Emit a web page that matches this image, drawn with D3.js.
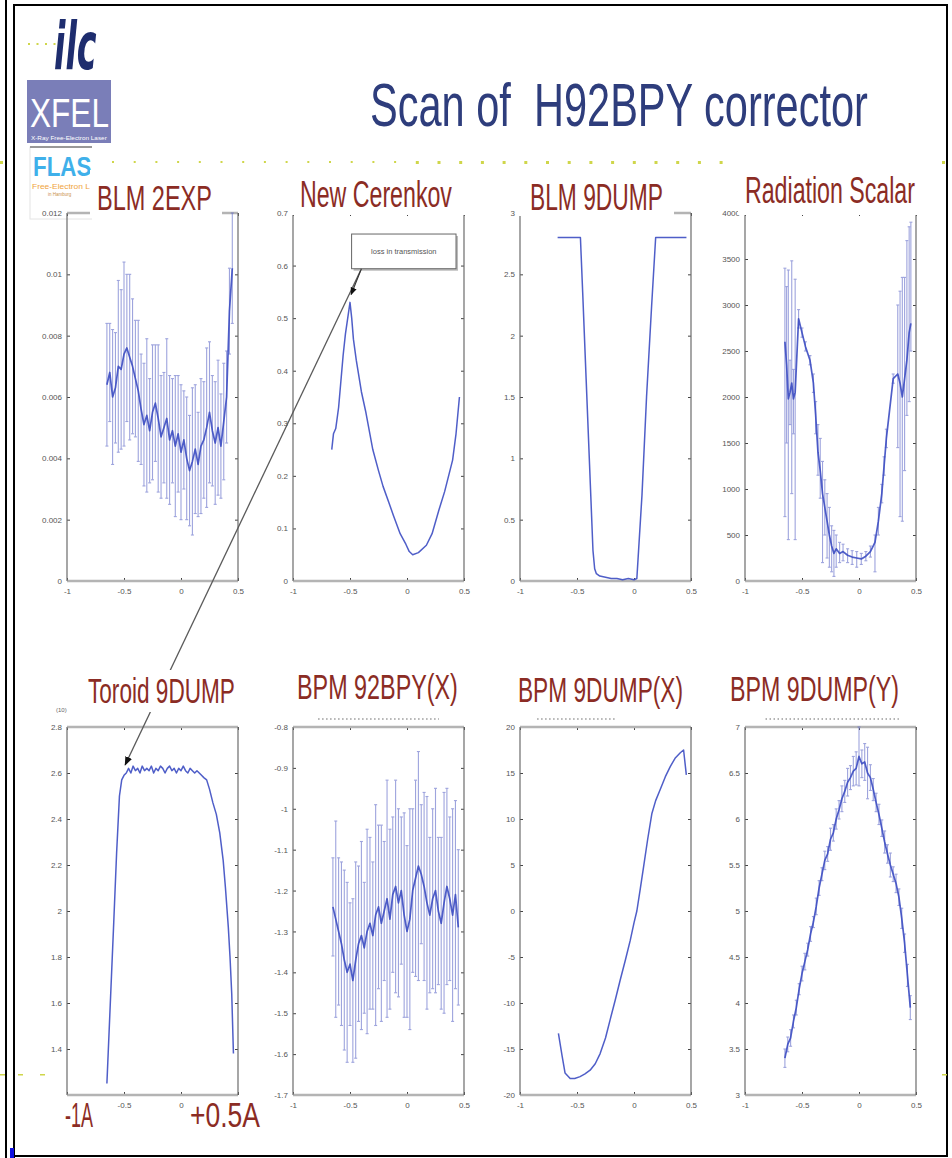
<!DOCTYPE html>
<html>
<head>
<meta charset="utf-8">
<script src="https://cdn.jsdelivr.net/npm/d3@7"></script>
<style>
  body { margin: 0; background: #fff; }
  svg { display: block; font-family: "Liberation Sans", Arial, sans-serif; }
  .tick text { font-size: 8px; fill: #555; }
  .tick line { stroke: #444; }
  .ptitle { fill: #8b2c24; }
</style>
</head>
<body>
<svg id="slide" width="952" height="1158"></svg>
<script>
// ---------- data ----------
const xTicks = [-1, -0.5, 0, 0.5];
const xTickLabels = ["-1", "-0.5", "0", "0.5"];

// corrector current steps used by the error-bar scans
const scanX = [-0.65,-0.625,-0.6,-0.575,-0.55,-0.525,-0.5,-0.475,-0.45,-0.425,-0.4,-0.375,-0.35,-0.325,-0.3,-0.275,-0.25,-0.225,-0.2,-0.175,-0.15,-0.125,-0.1,-0.075,-0.05,-0.025,0,0.025,0.05,0.075,0.1,0.125,0.15,0.175,0.2,0.225,0.25,0.275,0.3,0.325,0.35,0.375,0.4,0.425,0.45];

// BLM 2EXP
const blm2expTicks = [0,0.002,0.004,0.006,0.008,0.01,0.012];
const blm2expLabels = ["0","0.002","0.004","0.006","0.008","0.01","0.012"];
const blm2expMean = [0.0064,0.0068,0.0060,0.0063,0.0070,0.0069,0.0074,0.0076,0.0073,0.0070,0.0066,0.0062,0.0056,0.0051,0.0054,0.0049,0.0055,0.0058,0.0053,0.0047,0.0050,0.0053,0.0046,0.0049,0.0044,0.0048,0.0042,0.0046,0.0040,0.0036,0.0039,0.0043,0.0038,0.0044,0.0046,0.0050,0.0055,0.0049,0.0045,0.0050,0.0044,0.0052,0.0060,0.0088,0.0102];
const blm2expErr = [0.0020,0.0016,0.0022,0.0018,0.0028,0.0026,0.0030,0.0024,0.0027,0.0022,0.0019,0.0023,0.0018,0.0020,0.0025,0.0017,0.0022,0.0019,0.0024,0.0020,0.0018,0.0026,0.0021,0.0017,0.0023,0.0019,0.0022,0.0016,0.0020,0.0018,0.0024,0.0021,0.0017,0.0022,0.0019,0.0026,0.0023,0.0018,0.0020,0.0022,0.0017,0.0019,0.0015,0.0014,0.0018];

// New Cerenkov
const cerTicks = [0,0.1,0.2,0.3,0.4,0.5,0.6,0.7];
const cerLabels = ["0","0.1","0.2","0.3","0.4","0.5","0.6","0.7"];
const cerX = [-0.66,-0.645,-0.625,-0.6,-0.58,-0.56,-0.54,-0.52,-0.5,-0.485,-0.47,-0.445,-0.4,-0.36,-0.3,-0.25,-0.21,-0.16,-0.12,-0.06,-0.01,0.02,0.05,0.1,0.17,0.22,0.28,0.33,0.4,0.43,0.46];
const cerY = [0.25,0.28,0.29,0.33,0.38,0.43,0.47,0.5,0.53,0.5,0.46,0.42,0.36,0.32,0.25,0.21,0.18,0.15,0.125,0.09,0.07,0.056,0.05,0.054,0.068,0.09,0.135,0.17,0.23,0.28,0.35];

// BLM 9DUMP
const blm9Ticks = [0,0.5,1,1.5,2,2.5,3];
const blm9Labels = ["0","0.5","1","1.5","2","2.5","3"];
const blm9X = [-0.67,-0.47,-0.45,-0.42,-0.39,-0.36,-0.345,-0.33,-0.3,-0.25,-0.2,-0.15,-0.1,-0.05,0,0.025,0.07,0.11,0.155,0.19,0.46];
const blm9Y = [2.8,2.8,2.35,1.65,0.95,0.25,0.1,0.06,0.04,0.03,0.02,0.02,0.01,0.02,0.01,0.02,0.7,1.5,2.25,2.8,2.8];

// Radiation Scalar
const radTicks = [0,500,1000,1500,2000,2500,3000,3500,4000];
const radLabels = ["0","500","1000","1500","2000","2500","3000","3500","4000"];
const radX = [-0.65,-0.635,-0.62,-0.605,-0.59,-0.575,-0.56,-0.53,-0.5,-0.47,-0.43,-0.4,-0.38,-0.36,-0.34,-0.32,-0.3,-0.28,-0.26,-0.24,-0.22,-0.2,-0.17,-0.14,-0.1,-0.06,-0.02,0.02,0.06,0.1,0.14,0.17,0.2,0.22,0.24,0.3,0.34,0.36,0.38,0.4,0.42,0.44,0.455];
const radY = [2600,2350,1980,2050,2150,1980,2050,2850,2700,2550,2400,2150,1800,1400,1200,950,800,650,500,380,300,350,300,320,280,260,250,240,270,320,420,650,950,1250,1550,2200,2250,2150,2000,2200,2400,2700,2800];
const radLo = [700,1500,450,1700,950,1600,450,2750,2650,2500,2350,2050,1600,1150,900,200,500,250,150,100,50,150,200,220,200,180,150,180,220,260,100,500,850,1150,1450,2150,1450,700,650,1200,1800,1950,2500];
const radHi = [3400,3200,3380,2400,3480,2300,3280,2950,2750,2600,2450,2250,1950,1700,1550,1300,1100,950,800,600,550,500,420,400,350,330,320,300,320,380,500,800,1050,1350,1650,2250,3000,3150,3300,3300,3700,3850,3900];

// Toroid 9DUMP
const torTicks = [1.4,1.6,1.8,2,2.2,2.4,2.6,2.8];
const torLabels = ["1.4","1.6","1.8","2","2.2","2.4","2.6","2.8"];
const torX = [-0.65,-0.62,-0.59,-0.565,-0.54,-0.52,-0.5,-0.48,-0.46,-0.44,-0.42,-0.4,-0.38,-0.36,-0.34,-0.32,-0.3,-0.28,-0.26,-0.24,-0.22,-0.2,-0.18,-0.16,-0.14,-0.12,-0.1,-0.08,-0.06,-0.04,-0.02,0,0.02,0.04,0.06,0.08,0.1,0.12,0.14,0.16,0.18,0.2,0.225,0.25,0.28,0.31,0.34,0.37,0.39,0.415,0.43,0.445,0.46];
const torY = [1.25,1.6,1.95,2.25,2.5,2.57,2.59,2.6,2.62,2.6,2.63,2.61,2.62,2.6,2.63,2.61,2.62,2.61,2.63,2.6,2.62,2.61,2.63,2.62,2.6,2.62,2.63,2.61,2.62,2.6,2.62,2.61,2.63,2.61,2.6,2.62,2.61,2.6,2.61,2.6,2.59,2.58,2.57,2.53,2.47,2.42,2.34,2.22,2.1,1.93,1.8,1.64,1.38];

// BPM 92BPY(X)
const bpm92Ticks = [-1.7,-1.6,-1.5,-1.4,-1.3,-1.2,-1.1,-1,-0.9,-0.8];
const bpm92Labels = ["-1.7","-1.6","-1.5","-1.4","-1.3","-1.2","-1.1","-1","-0.9","-0.8"];
const bpm92Mean = [-1.24,-1.27,-1.30,-1.33,-1.37,-1.40,-1.38,-1.42,-1.37,-1.33,-1.31,-1.34,-1.30,-1.28,-1.31,-1.26,-1.24,-1.28,-1.25,-1.22,-1.27,-1.21,-1.19,-1.23,-1.20,-1.26,-1.30,-1.27,-1.20,-1.17,-1.14,-1.16,-1.19,-1.23,-1.26,-1.22,-1.20,-1.25,-1.28,-1.23,-1.19,-1.22,-1.26,-1.21,-1.29];
const bpm92Err = [0.12,0.24,0.18,0.20,0.22,0.22,0.15,0.20,0.24,0.19,0.23,0.16,0.25,0.21,0.18,0.27,0.20,0.24,0.17,0.29,0.22,0.19,0.26,0.23,0.18,0.25,0.21,0.27,0.20,0.24,0.28,0.17,0.23,0.26,0.19,0.22,0.25,0.18,0.21,0.27,0.24,0.20,0.26,0.23,0.19];

// BPM 9DUMP(X)
const bpmxTicks = [-20,-15,-10,-5,0,5,10,15,20];
const bpmxLabels = ["-20","-15","-10","-5","0","5","10","15","20"];
const bpmxX = [-0.663,-0.63,-0.605,-0.56,-0.52,-0.473,-0.43,-0.385,-0.34,-0.297,-0.25,-0.209,-0.165,-0.121,-0.075,-0.033,0,0.025,0.055,0.084,0.12,0.157,0.19,0.23,0.275,0.318,0.36,0.406,0.435,0.459];
const bpmxY = [-13.3,-15.8,-17.6,-18.2,-18.2,-18.0,-17.7,-17.3,-16.6,-15.5,-13.8,-11.8,-9.7,-7.5,-5.3,-3.2,-1.3,0.0,2.4,4.8,7.8,10.6,12.0,13.2,14.6,15.7,16.6,17.2,17.5,14.8];

// BPM 9DUMP(Y)
const bpmyTicks = [3,3.5,4,4.5,5,5.5,6,6.5,7];
const bpmyLabels = ["3","3.5","4","4.5","5","5.5","6","6.5","7"];
const bpmyMean = [3.40,3.55,3.62,3.80,3.95,4.15,4.32,4.45,4.58,4.75,4.88,5.05,5.25,5.40,5.55,5.62,5.78,5.85,6.00,6.10,6.22,6.30,6.40,6.45,6.52,6.55,6.68,6.60,6.62,6.50,6.45,6.32,6.18,6.05,5.90,5.75,5.62,5.50,5.40,5.30,5.15,4.92,4.65,4.30,3.95];
const bpmyErr = [0.10,0.08,0.09,0.07,0.08,0.06,0.08,0.09,0.07,0.08,0.06,0.09,0.08,0.07,0.10,0.08,0.12,0.09,0.11,0.10,0.14,0.12,0.15,0.13,0.16,0.18,0.32,0.15,0.20,0.28,0.14,0.12,0.10,0.11,0.09,0.12,0.10,0.13,0.08,0.10,0.09,0.11,0.10,0.12,0.13];

// ---------- layout ----------
const svg = d3.select("#slide");
const PW = 171, PH = 368;
const colLeft = [67, 293, 520, 745];
const rowTop = [213, 727];
const lineBlue = "#3c4dc2";
const red = "#8b2c24";

const panels = [
  { name: "BLM 2EXP", col: 0, row: 0, yDomain: [0, 0.012], yTicks: blm2expTicks, yLabels: blm2expLabels,
    kind: "err", x: scanX, y: blm2expMean, err: blm2expErr,
    t: { x0: 97, x1: 212, base: 210, bg: [90, 170, 222, 216] } },
  { name: "New Cerenkov", col: 1, row: 0, yDomain: [0, 0.7], yTicks: cerTicks, yLabels: cerLabels,
    kind: "line", x: cerX, y: cerY,
    t: { x0: 300, x1: 452, base: 207, bg: [289, 168, 469, 215] } },
  { name: "BLM 9DUMP", col: 2, row: 0, yDomain: [0, 3], yTicks: blm9Ticks, yLabels: blm9Labels,
    kind: "line", x: blm9X, y: blm9Y,
    t: { x0: 530, x1: 663, base: 210, bg: [516, 170, 674, 216] } },
  { name: "Radiation Scalar", col: 3, row: 0, yDomain: [0, 4000], yTicks: radTicks, yLabels: radLabels,
    kind: "errLoHi", x: radX, y: radY, lo: radLo, hi: radHi,
    t: { x0: 745, x1: 915, base: 203, bg: [738, 150, 926, 215] } },
  { name: "Toroid 9DUMP", col: 0, row: 1, yDomain: [1.2, 2.8], yTicks: torTicks, yLabels: torLabels,
    kind: "line", x: torX, y: torY, xLabels: ["", "-0.5", "0", ""],
    t: { x0: 88, x1: 235, base: 703, bg: [84, 670, 240, 712] } },
  { name: "BPM 92BPY(X)", col: 1, row: 1, yDomain: [-1.7, -0.8], yTicks: bpm92Ticks, yLabels: bpm92Labels,
    kind: "err", x: scanX, y: bpm92Mean, err: bpm92Err, faint: [-0.78, 0.28],
    t: { x0: 297, x1: 458, base: 699, bg: [292, 668, 464, 712] } },
  { name: "BPM 9DUMP(X)", col: 2, row: 1, yDomain: [-20, 20], yTicks: bpmxTicks, yLabels: bpmxLabels,
    kind: "line", x: bpmxX, y: bpmxY, faint: [-0.85, -0.15],
    t: { x0: 518, x1: 683, base: 702, bg: [514, 668, 688, 712] } },
  { name: "BPM 9DUMP(Y)", col: 3, row: 1, yDomain: [3, 7], yTicks: bpmyTicks, yLabels: bpmyLabels,
    kind: "err", x: scanX, y: bpmyMean, err: bpmyErr, faint: [-0.82, 0.35],
    t: { x0: 730, x1: 899, base: 701, bg: [726, 668, 904, 712] } }
];

// text squeezed to a measured width (the slide is horizontally compressed)
function fitText(parent, str, x0, x1, base, size, sy) {
  const t = parent.append("text").attr("font-size", size).style("white-space", "pre").text(str);
  const w = t.node().getComputedTextLength();
  t.attr("transform", `translate(${x0},${base}) scale(${(x1 - x0) / w},${sy || 1})`);
  return t;
}

// ---------- defs ----------
const defs = svg.append("defs");
defs.append("marker").attr("id", "head")
    .attr("viewBox", "0 0 10 10").attr("refX", 9).attr("refY", 5)
    .attr("markerWidth", 7).attr("markerHeight", 7).attr("orient", "auto")
  .append("path").attr("d", "M0,1L10,5L0,9z").attr("fill", "#111");
defs.append("clipPath").attr("id", "flashClip")
  .append("rect").attr("x", 28).attr("y", 140).attr("width", 64).attr("height", 80);

// ---------- slide frame ----------
svg.append("rect").attr("width", 952).attr("height", 1158).attr("fill", "#fff");
const frame = svg.append("g").attr("stroke", "#000").attr("stroke-width", 2).attr("fill", "none");
frame.append("line").attr("x1", 6).attr("x2", 6).attr("y1", 0).attr("y2", 1158);
frame.append("line").attr("x1", 14).attr("x2", 14).attr("y1", 4).attr("y2", 1158);
frame.append("line").attr("x1", 14).attr("x2", 948).attr("y1", 5).attr("y2", 5);
frame.append("line").attr("x1", 947).attr("x2", 947).attr("y1", 5).attr("y2", 1157);
frame.append("line").attr("x1", 14).attr("x2", 948).attr("y1", 1156).attr("y2", 1156);
svg.append("rect").attr("x", 10).attr("y", 1148).attr("width", 4).attr("height", 10).attr("fill", "#1010e0");

// dotted separators of the slide template
const dots = svg.append("g").attr("fill", "#cfd64a");
d3.range(28, 56, 8.5).forEach(x => dots.append("rect").attr("x", x).attr("y", 43).attr("width", 2).attr("height", 2));
d3.range(112, 730, 21.7).forEach((x, i) => dots.append("rect").attr("x", x).attr("y", 161)
    .attr("width", i > 13 ? 3 : 2).attr("height", i > 13 ? 3 : 2));
[0, 942].forEach(x => dots.append("rect").attr("x", x).attr("y", 161).attr("width", 3).attr("height", 3));
[0, 18, 40, 942].forEach(x => dots.append("rect").attr("x", x).attr("y", 1074).attr("width", 5).attr("height", 1.5));

// ---------- logos ----------
fitText(svg, "ilc", 54, 89, 69, 50, 1.3).attr("font-style", "italic").attr("font-weight", "bold")
   .attr("font-family", "DejaVu Sans Condensed, DejaVu Sans").attr("fill", "#1e2d6e");
svg.append("rect").attr("x", 27).attr("y", 80).attr("width", 84).attr("height", 63).attr("fill", "#7a7eb8");
fitText(svg, "XFEL", 30, 109, 127, 40).attr("fill", "#fff");
fitText(svg, "X-Ray Free-Electron Laser", 31, 107, 140, 5).attr("fill", "#fff");
const flash = svg.append("g").attr("clip-path", "url(#flashClip)");
flash.append("rect").attr("x", 30).attr("y", 147).attr("width", 90).attr("height", 72)
   .attr("fill", "#fff").attr("stroke", "#e4e4e4");
flash.append("line").attr("x1", 30).attr("x2", 120).attr("y1", 147).attr("y2", 147).attr("stroke", "#999").attr("stroke-width", 2);
fitText(flash, "FLASH", 33, 105, 176, 27).attr("font-weight", "bold").attr("fill", "#3fb0ea");
fitText(flash, "Free-Electron L", 32, 90, 189, 8).attr("fill", "#f0a43c");
flash.append("text").attr("x", 48).attr("y", 196).attr("font-size", 4.5).attr("fill", "#c9904a").text("in Hamburg");

// ---------- slide title ----------
fitText(svg, "Scan of  H92BPY corrector", 370, 868, 126, 62).attr("fill", "#2e3d7c");

// ---------- panels ----------
function drawPanel(p) {
  const left = colLeft[p.col], top = rowTop[p.row];
  const x = d3.scaleLinear().domain([-1, 0.5]).range([left, left + PW]);
  const y = d3.scaleLinear().domain(p.yDomain).range([top + PH, top]);
  p.xs = x; p.ys = y;
  const g = svg.append("g");
  const xl = p.xLabels || xTickLabels;

  g.append("g").attr("transform", `translate(${left},0)`)
    .call(d3.axisLeft(y).tickValues(p.yTicks).tickFormat((d, i) => p.yLabels[i])
      .tickSizeInner(-3).tickSizeOuter(0).tickPadding(5));
  g.append("g").attr("transform", `translate(${left + PW},0)`)
    .call(d3.axisRight(y).tickValues(p.yTicks).tickFormat("").tickSizeInner(-3).tickSizeOuter(0));
  g.append("g").attr("transform", `translate(0,${top + PH})`)
    .call(d3.axisBottom(x).tickValues(xTicks).tickFormat((d, i) => xl[i])
      .tickSizeInner(-3).tickSizeOuter(0).tickPadding(7));
  g.append("g").attr("transform", `translate(0,${top})`)
    .call(d3.axisTop(x).tickValues(xTicks).tickFormat("").tickSizeInner(-3).tickSizeOuter(0));
  g.selectAll(".domain").remove();

  // box: light thick horizontals, darker thin verticals
  [top, top + PH].forEach(yy => g.append("line").attr("x1", left).attr("x2", left + PW)
      .attr("y1", yy).attr("y2", yy).attr("stroke", "#b4b4b4").attr("stroke-width", 2.6));
  [left, left + PW].forEach(xx => g.append("line").attr("x1", xx).attr("x2", xx)
      .attr("y1", top).attr("y2", top + PH).attr("stroke", "#6c6c6c").attr("stroke-width", 1.2));

  if (p.faint) {
    g.append("line").attr("x1", x(p.faint[0])).attr("x2", x(p.faint[1]))
      .attr("y1", top - 8).attr("y2", top - 8)
      .attr("stroke", "#9a9a9a").attr("stroke-width", 1.5).attr("stroke-dasharray", "1.5,2.5");
  }

  const pts = p.x.map((xv, i) => {
    let lo = null, hi = null;
    if (p.kind === "err") { lo = p.y[i] - p.err[i]; hi = p.y[i] + p.err[i]; }
    if (p.kind === "errLoHi") { lo = p.lo[i]; hi = p.hi[i]; }
    return { x: xv, y: p.y[i], lo, hi };
  });

  if (p.kind !== "line") {
    const bars = g.append("g").attr("stroke", "#5e68c8").attr("stroke-width", 1.1).attr("opacity", 0.6);
    pts.forEach(d => {
      bars.append("line").attr("x1", x(d.x)).attr("x2", x(d.x)).attr("y1", y(d.lo)).attr("y2", y(d.hi));
      [d.lo, d.hi].forEach(v => bars.append("line").attr("x1", x(d.x) - 1.5).attr("x2", x(d.x) + 1.5)
          .attr("y1", y(v)).attr("y2", y(v)));
    });
  }
  const line = d3.line().x(d => x(d.x)).y(d => y(d.y));
  g.append("path").datum(pts).attr("d", line).attr("fill", "none")
    .attr("stroke", lineBlue).attr("stroke-width", p.kind === "line" ? 1.5 : 1.7)
    .attr("stroke-linejoin", "round").attr("opacity", 0.9);
}
panels.forEach(drawPanel);

// tiny exponent label above the toroid axis
svg.append("text").attr("x", 56).attr("y", 712).attr("font-size", 6).attr("fill", "#666").text("(10)");

// long arrow from the Cerenkov note down to the toroid curve
const cer = panels[1], tor = panels[4];
svg.append("line")
   .attr("x1", cer.xs(-0.4)).attr("y1", cer.ys(0.594))
   .attr("x2", tor.xs(-0.49)).attr("y2", tor.ys(2.635))
   .attr("stroke", "#5a5a5a").attr("stroke-width", 1.3).attr("marker-end", "url(#head)");

// panel titles with their white backgrounds
panels.forEach(p => {
  const b = p.t.bg;
  svg.append("rect").attr("x", b[0]).attr("y", b[1]).attr("width", b[2] - b[0]).attr("height", b[3] - b[1]).attr("fill", "#fff");
  fitText(svg, p.name, p.t.x0, p.t.x1, p.t.base, 36).attr("class", "ptitle");
});

// current labels under the toroid panel
fitText(svg, "-1A", tor.xs(-1) - 2, tor.xs(-1) + 26, 1127, 36).attr("fill", red);
fitText(svg, "+0.5A", tor.xs(0.5) - 48, tor.xs(0.5) + 22, 1127, 36).attr("fill", red);

// "loss in transmission" note on the Cerenkov panel
const bx0 = cer.xs(-0.486), bx1 = cer.xs(0.43), by0 = cer.ys(0.66), by1 = cer.ys(0.594);
svg.append("rect").attr("x", bx0 + 2).attr("y", by0 + 2).attr("width", bx1 - bx0).attr("height", by1 - by0).attr("fill", "#bbb");
svg.append("rect").attr("x", bx0).attr("y", by0).attr("width", bx1 - bx0).attr("height", by1 - by0)
   .attr("fill", "#fff").attr("stroke", "#666").attr("stroke-width", 1);
svg.append("text").attr("x", (bx0 + bx1) / 2).attr("y", (by0 + by1) / 2 + 2.5).attr("text-anchor", "middle")
   .attr("font-size", 7.5).attr("fill", "#555").text("loss in transmission");
svg.append("line")
   .attr("x1", cer.xs(-0.4)).attr("y1", cer.ys(0.594))
   .attr("x2", cer.xs(-0.49)).attr("y2", cer.ys(0.545))
   .attr("stroke", "#333").attr("stroke-width", 1.1).attr("marker-end", "url(#head)");
</script>
</body>
</html>
